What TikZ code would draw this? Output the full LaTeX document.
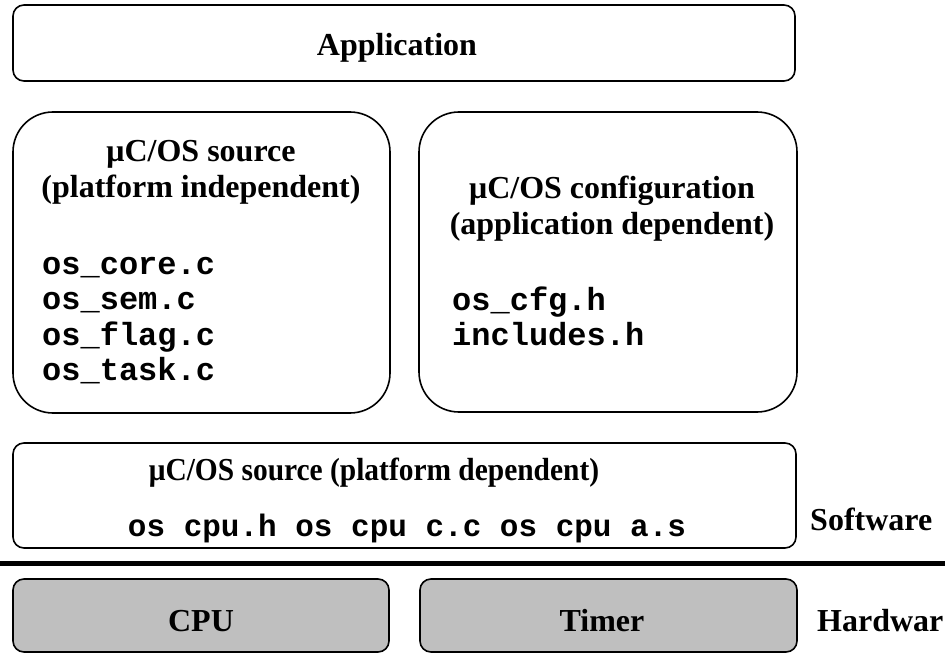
\documentclass[tikz,border=0pt]{standalone}
\usepackage{fontspec}
\setmainfont{Liberation Serif}
\newfontfamily\monofont{Liberation Mono}
\begin{document}
\begin{tikzpicture}[x=1pt,y=-1pt,
  box/.style={draw=black,line width=1.6pt,rounded corners=11pt},
  bigbox/.style={draw=black,line width=1.6pt,rounded corners=40pt},
  hwbox/.style={draw=black,line width=1.6pt,rounded corners=11pt,fill=black!25},
  ttl/.style={font=\fontsize{32}{35}\selectfont\bfseries,inner sep=0pt,anchor=base},
  code/.style={font=\fontsize{32}{35.5}\selectfont\monofont\bfseries,inner sep=0pt,anchor=base west},
]
\useasboundingbox (0,0) rectangle (945,655);
% boxes
\draw[box] (13,5) rectangle (795,81);
\draw[bigbox] (13,112) rectangle (390,413);
\draw[bigbox] (419,112) rectangle (797,412);
\draw[box] (13,443) rectangle (796,548);
\draw[hwbox] (13,579) rectangle (389,652);
\draw[hwbox] (420,579) rectangle (797,652);
\draw[line width=5pt] (0,563.5) -- (945,563.5);
% texts
\node[ttl] (app) at (397,56) {Application};
\node[ttl] (srcind1) at (201,162) {μC/OS source};
\node[ttl] (srcind2) at (201,198) {(platform independent)};
\node[code] (f1) at (42,274) {os\_core.c};
\node[code] (f2) at (42,309.5) {os\_sem.c};
\node[code] (f3) at (42,345) {os\_flag.c};
\node[code] (f4) at (42,380.5) {os\_task.c};
\node[ttl] (cfg1) at (612,199) {μC/OS configuration};
\node[ttl] (cfg2) at (612,234) {(application dependent)};
\node[code] (g1) at (452,310) {os\_cfg.h};
\node[code] (g2) at (452,345.5) {includes.h};
\node[ttl] (srcdep) at (374,480) {\scalebox{0.92}[1]{μC/OS source (platform dependent)}};
\node[font=\fontsize{31}{35}\selectfont\monofont\bfseries,inner sep=0pt,anchor=base] (depfiles) at (407,536) {os cpu.h os cpu c.c os cpu a.s};
\node[ttl] (cpu) at (201,631) {CPU};
\node[ttl] (timer) at (602,631) {Timer};
\node[ttl,anchor=base west] (sw) at (810,530) {Software};
\node[ttl,anchor=base west] (hw) at (817,631) {Hardwar};
\end{tikzpicture}
\end{document}
